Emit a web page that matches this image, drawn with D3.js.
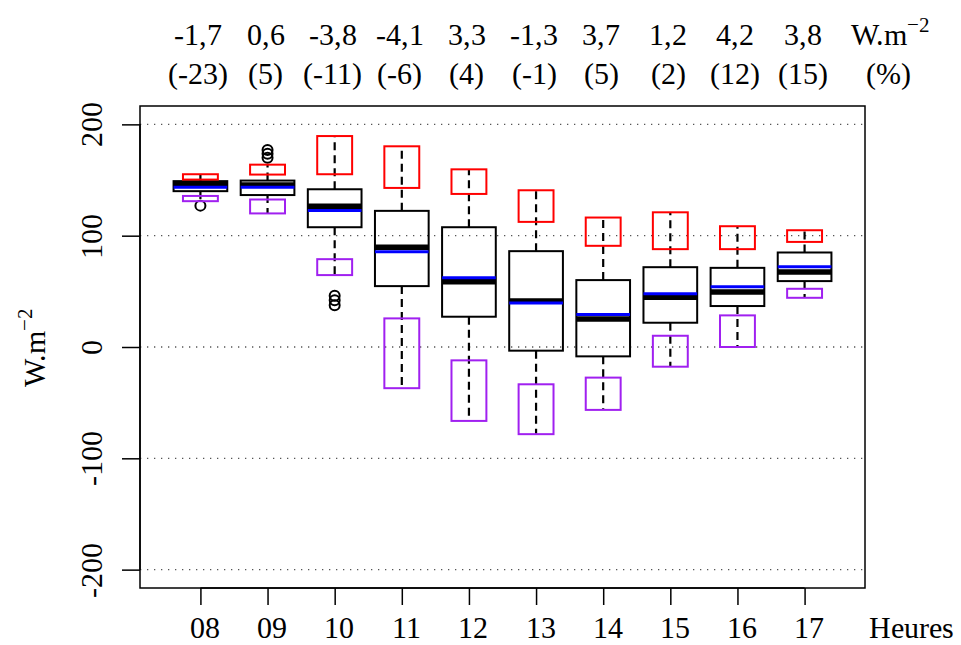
<!DOCTYPE html>
<html>
<head>
<meta charset="utf-8">
<script src="https://cdn.jsdelivr.net/npm/d3@7"></script>
<style>
  @font-face { font-family: "ChartSerif"; src: local("Liberation Serif"), local("LiberationSerif-Regular"), local("LiberationSerif"); }
  body { margin: 0; background: #fff; }
</style>
</head>
<body>
<div id="chart"></div>
<script>
// data
const hours = ["08", "09", "10", "11", "12", "13", "14", "15", "16", "17"];
const diffW = ["-1,7", "0,6", "-3,8", "-4,1", "3,3", "-1,3", "3,7", "1,2", "4,2", "3,8"];
const diffPct = ["(-23)", "(5)", "(-11)", "(-6)", "(4)", "(-1)", "(5)", "(2)", "(12)", "(15)"];

const whiskerLow = [131, 120, 65, -37, -66, -78, -56, -17, 0, 44];
const q1 = [140, 136.5, 107.6, 54.7, 27.2, -3.3, -8.4, 21.8, 36.8, 59.2];
const medians = [146, 145.5, 126.5, 89.7, 58.6, 41.3, 25.1, 44.8, 49.3, 67.3];
const q3 = [149, 149.5, 141.7, 122.3, 107.6, 86.1, 60.1, 71.7, 71.1, 84.9];
const whiskerHigh = [155, 164, 189.5, 180.3, 159.6, 140.8, 116.3, 121, 108.5, 104.9];
const means = [143.5, 143.5, 122.6, 85.5, 62.2, 39.5, 29.3, 47.8, 54.1, 72];
const outliers = [[127], [170, 173.5, 177], [37.5, 42, 46], [], [], [], [], [], [], []];

const redLow = [150.4, 154.9, 155.2, 142.9, 137.5, 112.4, 90.9, 87.9, 87.9, 94.4];
const redHigh = [155.2, 163.8, 189.5, 180.3, 159.6, 140.8, 116.3, 121, 108.5, 104.9];
const purpleLow = [131, 120, 64.6, -37, -66.4, -78.3, -56.5, -17.7, 0, 44.2];
const purpleHigh = [135.7, 132.5, 78.9, 25.7, -12, -33.5, -27.5, 10.1, 28.4, 52.3];

const yTicks = [-200, -100, 0, 100, 200];

const width = 961, height = 645;
const plot = { left: 140, right: 865, top: 106, bottom: 588 };
const serif = 'ChartSerif, "Liberation Serif", serif';

const svg = d3.select("#chart").append("svg")
  .attr("width", width)
  .attr("height", height);

svg.append("rect").attr("width", width).attr("height", height).attr("fill", "#fff");

// positions 1..10, R style xlim with 4% extension
const x = d3.scaleLinear().domain([0.1, 10.9]).range([plot.left, plot.right]);
const y = d3.scaleLinear().domain([-216.5, 216.5]).range([plot.bottom, plot.top]);

const idx = d3.range(hours.length);
const pos = i => x(i + 1);

// dotted grid
svg.append("g")
  .selectAll("line")
  .data(yTicks)
  .join("line")
  .attr("x1", plot.left).attr("x2", plot.right)
  .attr("y1", d => y(d)).attr("y2", d => y(d))
  .attr("stroke", "#555")
  .attr("stroke-width", 1.3)
  .attr("stroke-dasharray", "1.3,5.7");

// whiskers (dashed)
const whiskers = svg.append("g")
  .attr("stroke", "#000")
  .attr("stroke-width", 2.2)
  .attr("stroke-dasharray", "8,5");
whiskers.selectAll("line.hi").data(idx).join("line")
  .attr("class", "hi")
  .attr("x1", pos).attr("x2", pos)
  .attr("y1", i => y(q3[i])).attr("y2", i => y(whiskerHigh[i]));
whiskers.selectAll("line.lo").data(idx).join("line")
  .attr("class", "lo")
  .attr("x1", pos).attr("x2", pos)
  .attr("y1", i => y(q1[i])).attr("y2", i => y(whiskerLow[i]));

// boxes
const half = x(1.4) - x(1);
svg.append("g").selectAll("rect").data(idx).join("rect")
  .attr("x", i => pos(i) - half)
  .attr("width", 2 * half)
  .attr("y", i => y(q3[i]))
  .attr("height", i => y(q1[i]) - y(q3[i]))
  .attr("fill", "none")
  .attr("stroke", "#000")
  .attr("stroke-width", 2);

// medians
svg.append("g").selectAll("line").data(idx).join("line")
  .attr("x1", i => pos(i) - half).attr("x2", i => pos(i) + half)
  .attr("y1", i => y(medians[i])).attr("y2", i => y(medians[i]))
  .attr("stroke", "#000")
  .attr("stroke-width", 5.5);

// means
svg.append("g").selectAll("line").data(idx).join("line")
  .attr("x1", i => pos(i) - half).attr("x2", i => pos(i) + half)
  .attr("y1", i => y(means[i])).attr("y2", i => y(means[i]))
  .attr("stroke", "#0000ff")
  .attr("stroke-width", 3);

// outliers
const outData = idx.flatMap(i => outliers[i].map(v => ({ i, v })));
svg.append("g").selectAll("circle").data(outData).join("circle")
  .attr("cx", d => pos(d.i))
  .attr("cy", d => y(d.v))
  .attr("r", 5)
  .attr("fill", "none")
  .attr("stroke", "#000")
  .attr("stroke-width", 2);

// red and purple boxes
const halfSmall = x(1.26) - x(1);
function smallBoxes(lo, hi, color) {
  svg.append("g").selectAll("rect").data(idx).join("rect")
    .attr("x", i => pos(i) - halfSmall)
    .attr("width", 2 * halfSmall)
    .attr("y", i => y(hi[i]))
    .attr("height", i => y(lo[i]) - y(hi[i]))
    .attr("fill", "none")
    .attr("stroke", color)
    .attr("stroke-width", 2);
}
smallBoxes(redLow, redHigh, "#ff0000");
smallBoxes(purpleLow, purpleHigh, "#a020f0");

// plot frame
svg.append("rect")
  .attr("x", plot.left).attr("y", plot.top)
  .attr("width", plot.right - plot.left)
  .attr("height", plot.bottom - plot.top)
  .attr("fill", "none")
  .attr("stroke", "#000")
  .attr("stroke-width", 1.5);

// y axis
const yAxis = svg.append("g")
  .attr("transform", `translate(${plot.left},0)`)
  .call(d3.axisLeft(y).tickValues(yTicks).tickSize(18).tickFormat(d3.format("d")));
yAxis.select(".domain").attr("d", `M0,${y(-200)}V${y(200)}`).attr("stroke-width", 1.5);
yAxis.selectAll(".tick line").attr("stroke-width", 1.5);
yAxis.selectAll(".tick text")
  .attr("x", null).attr("dy", null)
  .attr("transform", "translate(-38,0) rotate(-90)")
  .attr("text-anchor", "middle")
  .style("font", `30px ${serif}`)
  .attr("fill", "#000")
  .text(d => String(d));

// x axis
const xAxis = svg.append("g")
  .attr("transform", `translate(0,${plot.bottom})`)
  .call(d3.axisBottom(x).tickValues(d3.range(1, 11)).tickSize(17).tickFormat(i => hours[i - 1]));
xAxis.select(".domain").attr("d", `M${x(1)},0H${x(10)}`).attr("stroke-width", 1.5);
xAxis.selectAll(".tick line").attr("stroke-width", 1.5);
xAxis.selectAll(".tick text")
  .attr("y", 50).attr("dy", null)
  .attr("x", 4)
  .style("font", `30px ${serif}`)
  .attr("fill", "#000");

function label(px, py, txt) {
  return svg.append("text")
    .attr("x", px).attr("y", py)
    .attr("text-anchor", "middle")
    .style("font", `30px ${serif}`)
    .text(txt);
}

label(911, 638, "Heures");

// top annotations
idx.forEach(i => {
  label(pos(i) - 2, 45, diffW[i]);
  label(pos(i) - 2, 84, diffPct[i]);
});

const unitTop = label(890, 45, "");
unitTop.append("tspan").text("W.m");
unitTop.append("tspan").attr("dy", -13).style("font-size", "21px").text("\u22122");

label(888, 84, "(%)");

// y label
const yLab = svg.append("text")
  .attr("transform", `translate(45,${y(0)}) rotate(-90)`)
  .attr("text-anchor", "middle")
  .style("font", `30px ${serif}`);
yLab.append("tspan").text("W.m");
yLab.append("tspan").attr("dy", -13).style("font-size", "21px").text("\u22122");
</script>
</body>
</html>
